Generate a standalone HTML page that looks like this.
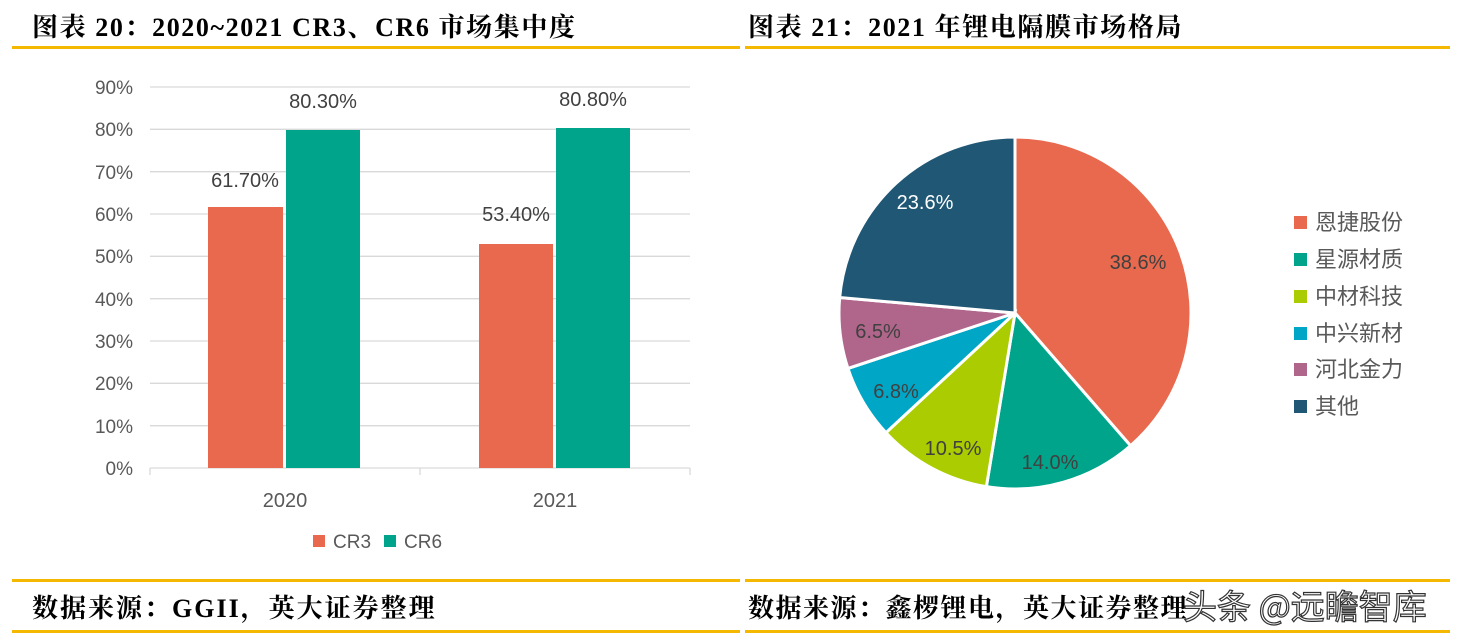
<!DOCTYPE html>
<html><head><meta charset="utf-8"><style>
body{margin:0;background:#fff;width:1475px;height:635px;overflow:hidden;position:relative;font-family:"Liberation Sans","Noto Sans CJK SC",sans-serif}
.t{position:absolute;font-family:"Liberation Serif","Noto Serif CJK SC",serif;font-weight:bold;font-size:26px;color:#000;white-space:nowrap;letter-spacing:1px}
.y{position:absolute;background:#F5B800;height:3px}
</style></head><body>
<div class="t" style="left:32px;top:7px;letter-spacing:1.6px">图表 20：2020~2021 CR3、CR6 市场集中度</div>
<div class="t" style="left:748px;top:7px;letter-spacing:1.6px">图表 21：2021 年锂电隔膜市场格局</div>
<div class="y" style="left:12px;top:46px;width:728px"></div>
<div class="y" style="left:745px;top:46px;width:705px"></div>
<div class="y" style="left:12px;top:579px;width:728px"></div>
<div class="y" style="left:745px;top:579px;width:705px"></div>
<div class="y" style="left:12px;top:630px;width:728px"></div>
<div class="y" style="left:745px;top:630px;width:705px"></div>
<div class="t" style="left:32px;top:588px;letter-spacing:2px">数据来源：GGII，英大证券整理</div>
<div class="t" style="left:748px;top:588px;letter-spacing:1.5px">数据来源：鑫椤锂电，英大证券整理</div>
<div style="position:absolute;left:1183px;top:580px;font-size:34px;color:#fff;-webkit-text-stroke:1.2px #333;font-family:'Noto Sans CJK SC',sans-serif;white-space:nowrap">头条 @远瞻智库</div>
<svg width="1475" height="635" style="position:absolute;left:0;top:0;pointer-events:none" font-family="Liberation Sans, Noto Sans CJK SC, sans-serif">
<g stroke="#d9d9d9" stroke-width="1.3">
<line x1="150" x2="690" y1="87" y2="87"/><line x1="150" x2="690" y1="129.3" y2="129.3"/><line x1="150" x2="690" y1="171.7" y2="171.7"/><line x1="150" x2="690" y1="214" y2="214"/><line x1="150" x2="690" y1="256.3" y2="256.3"/><line x1="150" x2="690" y1="298.7" y2="298.7"/><line x1="150" x2="690" y1="341" y2="341"/><line x1="150" x2="690" y1="383.3" y2="383.3"/><line x1="150" x2="690" y1="425.7" y2="425.7"/><line x1="150" x2="690" y1="468" y2="468"/>
<line x1="150" x2="150" y1="468" y2="475"/><line x1="420" x2="420" y1="468" y2="475"/><line x1="690" x2="690" y1="468" y2="475"/>
</g>
<g font-size="19" fill="#595959" text-anchor="end">
<text x="133" y="94">90%</text><text x="133" y="136">80%</text><text x="133" y="179">70%</text><text x="133" y="221">60%</text><text x="133" y="263">50%</text><text x="133" y="306">40%</text><text x="133" y="348">30%</text><text x="133" y="390">20%</text><text x="133" y="433">10%</text><text x="133" y="475">0%</text>
</g>
<rect x="208" y="207" width="75" height="261" fill="#E8694D"/>
<rect x="286" y="130" width="74" height="338" fill="#00A48A"/>
<rect x="479" y="244" width="74" height="224" fill="#E8694D"/>
<rect x="556" y="128" width="74" height="340" fill="#00A48A"/>
<g font-size="20" fill="#404040" text-anchor="middle">
<text x="245" y="187">61.70%</text><text x="323" y="108">80.30%</text>
<text x="516" y="221">53.40%</text><text x="593" y="106">80.80%</text>
<text x="285" y="507" fill="#595959">2020</text><text x="555" y="507" fill="#595959">2021</text>
</g>
<rect x="313" y="535" width="12" height="12" fill="#E8694D"/><text x="333" y="548" font-size="19" fill="#595959">CR3</text>
<rect x="384" y="535" width="12" height="12" fill="#00A48A"/><text x="404" y="548" font-size="19" fill="#595959">CR6</text>
<g id="pie"></g>
<g font-size="20" fill="#404040" text-anchor="middle">
<text x="1138" y="269">38.6%</text><text x="1050" y="469">14.0%</text><text x="953" y="455">10.5%</text><text x="896" y="398">6.8%</text><text x="878" y="338">6.5%</text><text x="925" y="209" fill="#fff">23.6%</text>
</g>
<g font-size="22" fill="#595959">
<rect x="1294" y="216" width="13" height="13" fill="#E8694D"/><text x="1315" y="230">恩捷股份</text>
<rect x="1294" y="253" width="13" height="13" fill="#00A48A"/><text x="1315" y="267">星源材质</text>
<rect x="1294" y="290" width="13" height="13" fill="#AACC00"/><text x="1315" y="304">中材科技</text>
<rect x="1294" y="327" width="13" height="13" fill="#00A6C6"/><text x="1315" y="341">中兴新材</text>
<rect x="1294" y="363" width="13" height="13" fill="#B0658A"/><text x="1315" y="377">河北金力</text>
<rect x="1294" y="400" width="13" height="13" fill="#1F5775"/><text x="1315" y="414">其他</text>
</g>
</svg>
<script>
var d=[38.6,14.0,10.5,6.8,6.5,23.6],c=["#E8694D","#00A48A","#AACC00","#00A6C6","#B0658A","#1F5775"];
var cx=1015,cy=313,r=176,a=0,s="",tot=100;
for(var i=0;i<6;i++){var a2=a+d[i]/tot*2*Math.PI;
var x1=cx+r*Math.sin(a),y1=cy-r*Math.cos(a),x2=cx+r*Math.sin(a2),y2=cy-r*Math.cos(a2);
s+='<path d="M'+cx+','+cy+' L'+x1+','+y1+' A'+r+','+r+' 0 '+(a2-a>Math.PI?1:0)+' 1 '+x2+','+y2+' Z" fill="'+c[i]+'" stroke="#fff" stroke-width="3"/>';a=a2;}
document.getElementById("pie").innerHTML=s;
</script>
</body></html>
